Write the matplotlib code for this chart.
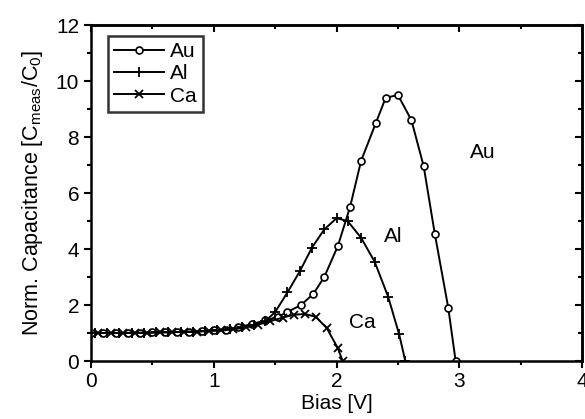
import numpy as np
import matplotlib
matplotlib.use("Agg")
import matplotlib.pyplot as plt
from matplotlib.ticker import MultipleLocator, NullFormatter

plt.rcParams["font.family"] = ["Liberation Sans", "DejaVu Sans"]
plt.rcParams["mathtext.fontset"] = "custom"
plt.rcParams["mathtext.rm"] = "Liberation Sans"
plt.rcParams["mathtext.it"] = "Liberation Sans"

# data
au_bias = [0.0, 0.1, 0.2, 0.3, 0.4, 0.5, 0.6, 0.7, 0.8, 0.9, 1.0, 1.1, 1.2,
           1.31, 1.42, 1.52, 1.6, 1.71, 1.81, 1.9, 2.01, 2.11, 2.2, 2.32,
           2.4, 2.5, 2.61, 2.71, 2.8, 2.91, 2.97]
au_cap = [1.0, 1.0, 1.0, 1.0, 1.01, 1.02, 1.03, 1.04, 1.05, 1.07, 1.09, 1.12,
          1.2, 1.32, 1.45, 1.57, 1.75, 2.0, 2.39, 3.0, 4.1, 5.5, 7.15, 8.5,
          9.4, 9.5, 8.6, 6.95, 4.55, 1.9, 0.0]

al_bias = [0.03, 0.13, 0.23, 0.33, 0.43, 0.53, 0.63, 0.73, 0.83, 0.93, 1.03,
           1.13, 1.23, 1.33, 1.42, 1.5, 1.6, 1.7, 1.8, 1.9, 2.0, 2.09, 2.2,
           2.31, 2.42, 2.51, 2.56]
al_cap = [1.0, 1.0, 1.0, 1.01, 1.01, 1.02, 1.03, 1.04, 1.05, 1.07, 1.1, 1.14,
          1.2, 1.28, 1.42, 1.75, 2.45, 3.2, 4.05, 4.7, 5.1, 5.0, 4.4, 3.55,
          2.3, 0.95, 0.0]

ca_bias = [0.06, 0.16, 0.26, 0.36, 0.46, 0.56, 0.66, 0.76, 0.86, 0.96, 1.06,
           1.16, 1.26, 1.36, 1.46, 1.56, 1.65, 1.74, 1.83, 1.92, 2.01, 2.05]
ca_cap = [1.0, 1.0, 1.0, 1.0, 1.01, 1.02, 1.03, 1.04, 1.05, 1.07, 1.09, 1.13,
          1.2, 1.3, 1.42, 1.55, 1.65, 1.68, 1.58, 1.18, 0.46, 0.0]

FS = 15

fig = plt.figure(figsize=(5.85, 4.19), dpi=100)
ax = fig.add_axes([0.1556, 0.1384, 0.8394, 0.8019])

ax.plot(au_bias, au_cap, color="black", lw=1.4, marker="o", ms=5,
        mfc="white", mec="black", mew=1.2, label="Au")
ax.plot(al_bias, al_cap, color="black", lw=1.4, marker="+", ms=7,
        mew=1.3, label="Al")
ax.plot(ca_bias, ca_cap, color="black", lw=1.4, marker="x", ms=5.5,
        mew=1.3, label="Ca")

ax.text(3.19, 7.43, "Au", fontsize=FS, ha="center", va="center")
ax.text(2.46, 4.43, "Al", fontsize=FS, ha="center", va="center")
ax.text(2.21, 1.36, "Ca", fontsize=FS, ha="center", va="center")

ax.set_xlim(0, 4)
ax.set_ylim(0, 12)
ax.xaxis.set_major_locator(MultipleLocator(1))
ax.xaxis.set_minor_locator(MultipleLocator(0.5))
ax.yaxis.set_major_locator(MultipleLocator(2))
ax.yaxis.set_minor_locator(MultipleLocator(1))
ax.tick_params(which="both", direction="out", width=1.5, labelsize=FS)
ax.tick_params(which="major", length=5)
ax.tick_params(which="minor", length=3)
ax.tick_params(axis="x", pad=3)

# inward ticks on top and right
top = ax.secondary_xaxis("top")
top.xaxis.set_major_locator(MultipleLocator(1))
top.xaxis.set_minor_locator(MultipleLocator(0.5))
top.xaxis.set_major_formatter(NullFormatter())
top.tick_params(which="both", direction="in", width=1.5)
top.tick_params(which="major", length=5)
top.tick_params(which="minor", length=3)
right = ax.secondary_yaxis("right")
right.yaxis.set_major_locator(MultipleLocator(2))
right.yaxis.set_minor_locator(MultipleLocator(1))
right.yaxis.set_major_formatter(NullFormatter())
right.tick_params(which="both", direction="in", width=1.5)
right.tick_params(which="major", length=5)
right.tick_params(which="minor", length=3)
for s in list(ax.spines.values()) + [top.spines["top"], right.spines["right"]]:
    s.set_linewidth(1.8)

ax.set_xlabel("Bias [V]", fontsize=FS, labelpad=2)
ax.set_ylabel(r"Norm. Capacitance [C$_{\mathrm{meas}}$/C$_0$]", fontsize=15.5,
              labelpad=8)

leg = ax.legend(loc="upper left", bbox_to_anchor=(0.035, 0.967),
                borderaxespad=0, numpoints=1, fontsize=FS, fancybox=False,
                edgecolor="black", handlelength=2.4, handletextpad=0.25,
                labelspacing=0.15, borderpad=0.3)
leg.get_frame().set_linewidth(1.8)

fig.savefig("out.png", dpi=100)
